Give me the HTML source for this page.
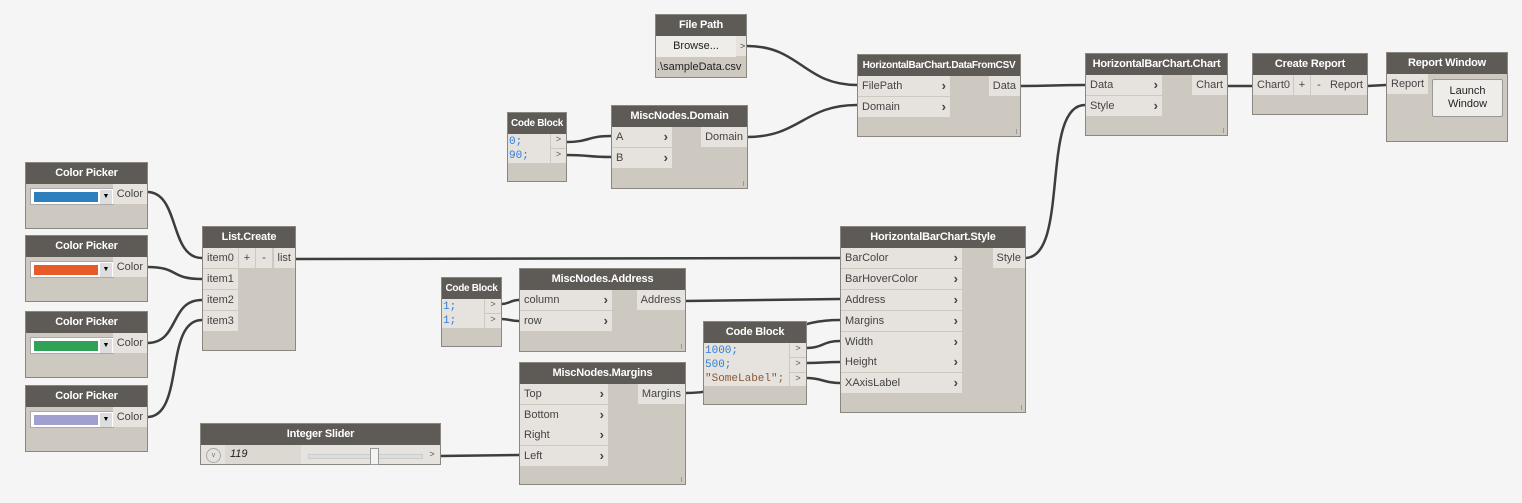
<!DOCTYPE html>
<html><head><meta charset="utf-8"><style>
body{margin:0;width:1522px;height:503px;background:#f5f5f5;position:relative;overflow:hidden;font-family:"Liberation Sans",sans-serif;}
.n{position:absolute;background:#cdc8c0;border:1px solid #8a8680;box-sizing:border-box;}
.h{position:absolute;left:0;right:0;top:0;height:21px;background:#5e5b57;color:#fff;font-weight:bold;font-size:11px;line-height:21px;text-align:center;white-space:nowrap;overflow:hidden;letter-spacing:-0.2px;}
.r{position:absolute;background:#e6e2dd;height:20px;font-size:11px;line-height:20px;color:#444;padding-left:4px;box-sizing:border-box;white-space:nowrap;}
.r b{position:absolute;right:4px;top:0;font-size:13px;color:#444;}
.o{position:absolute;background:#e6e2dd;height:20px;font-size:11px;line-height:20px;color:#444;padding:0 4px;box-sizing:border-box;white-space:nowrap;}
.code{position:absolute;font-family:"Liberation Mono",monospace;font-size:11px;line-height:14px;color:#2f7fd8;background:#e6e2dd;box-sizing:border-box;padding-left:1px;}
.g{position:absolute;background:#e6e2dd;font-size:9px;color:#555;text-align:center;border-left:1px solid #cdc8c0;box-sizing:border-box;}
.pk{position:absolute;background:#fff;border:1px solid #aaa;box-sizing:border-box;}
.sw{position:absolute;left:3px;top:3px;width:64px;height:10px;}
.dd{position:absolute;right:1px;top:1px;width:12px;height:14px;background:#ddd;font-size:7px;text-align:center;line-height:14px;}
.bar{position:absolute;right:3px;bottom:2px;width:1px;height:5px;background:#999;}
svg{position:absolute;left:0;top:0;}
</style></head><body>
<svg width="1522" height="503"><g fill="none" stroke="#3d3d3d" stroke-width="2.5">
<path d="M747 46 C800 46,804 85,857 85"/>
<path d="M747 137 C800 137,804 105,857 105"/>
<path d="M566 142 C590 142,587 136,611 136"/>
<path d="M566 155 C590 155,587 157,611 157"/>
<path d="M1020 86 C1052 86,1053 85,1085 85"/>
<path d="M1025 258 C1070 258,1040 105,1085 105"/>
<path d="M1227 86 L1252 86"/>
<path d="M1367 86 L1386 85"/>
<path d="M147 192 C180 192,169 258,202 258"/>
<path d="M147 267 C180 267,169 279,202 279"/>
<path d="M147 343 C180 343,169 300,202 300"/>
<path d="M147 417 C185 417,164 320,202 320"/>
<path d="M295 259 L840 258"/>
<path d="M501 304 C510 304,510 300,519 300"/>
<path d="M501 319 C510 319,510 321,519 321"/>
<path d="M685 301 L840 299"/>
<path d="M685 393 C780 393,745 320,840 320"/>
<path d="M806 348 C823 348,823 341,840 341"/>
<path d="M806 363 C823 363,823 362,840 362"/>
<path d="M806 378 C823 378,823 383,840 383"/>
<path d="M440 456 L519 455"/>
</g></svg>

<!-- File Path -->
<div class="n" style="left:655px;top:14px;width:92px;height:64px">
<div class="h">File Path</div>
<div class="o" style="left:0;top:21px;width:80px;height:21px;background:#efede9;text-align:center;color:#222">Browse...</div>
<div class="o" style="left:80px;top:21px;width:10px;font-size:9px">&gt;</div>
<div class="o" style="left:0;top:42px;width:90px;background:transparent;color:#222;padding-left:1px">.\sampleData.csv</div>
</div>

<!-- DataFromCSV -->
<div class="n" style="left:857px;top:54px;width:164px;height:83px">
<div class="h" style="font-size:10px;letter-spacing:-0.3px">HorizontalBarChart.DataFromCSV</div>
<div class="r" style="left:0;top:21px;width:92px">FilePath<b>›</b></div>
<div class="r" style="left:0;top:42px;width:92px">Domain<b>›</b></div>
<div class="o" style="right:0;top:21px">Data</div>
<div class="bar"></div>
</div>

<!-- Code Block 0 90 -->
<div class="n" style="left:507px;top:112px;width:60px;height:70px">
<div class="h" style="font-size:10px;letter-spacing:-0.3px">Code Block</div>
<div class="code" style="left:0;top:21px;width:42px;height:29px;padding-top:1px">0;<br>90;</div>
<div class="g" style="left:42px;top:21px;width:16px;height:14px">&gt;</div>
<div class="g" style="left:42px;top:36px;width:16px;height:14px">&gt;</div>
</div>

<!-- MiscNodes.Domain -->
<div class="n" style="left:611px;top:105px;width:137px;height:84px">
<div class="h">MiscNodes.Domain</div>
<div class="r" style="left:0;top:21px;width:60px">A<b>›</b></div>
<div class="r" style="left:0;top:42px;width:60px">B<b>›</b></div>
<div class="o" style="right:0;top:21px">Domain</div>
<div class="bar"></div>
</div>

<!-- Chart -->
<div class="n" style="left:1085px;top:53px;width:143px;height:83px">
<div class="h">HorizontalBarChart.Chart</div>
<div class="r" style="left:0;top:21px;width:76px">Data<b>›</b></div>
<div class="r" style="left:0;top:42px;width:76px">Style<b>›</b></div>
<div class="o" style="right:0;top:21px">Chart</div>
<div class="bar"></div>
</div>

<!-- Create Report -->
<div class="n" style="left:1252px;top:53px;width:116px;height:62px">
<div class="h">Create Report</div>
<div class="o" style="left:0;top:21px;width:40px">Chart0</div>
<div class="o" style="left:41px;top:21px;width:16px;text-align:center;padding:0">+</div>
<div class="o" style="left:58px;top:21px;width:16px;text-align:center;padding:0">-</div>
<div class="o" style="right:0;top:21px">Report</div>
</div>

<!-- Report Window -->
<div class="n" style="left:1386px;top:52px;width:122px;height:90px">
<div class="h">Report Window</div>
<div class="o" style="left:0;top:21px">Report</div>
<div style="position:absolute;left:45px;top:26px;width:71px;height:38px;background:#efedea;border:1px solid #999;border-radius:2px;font-size:11px;text-align:center;line-height:13px;padding-top:5px;box-sizing:border-box;color:#222">Launch<br>Window</div>
</div>

<!-- Color Pickers -->
<div class="n" style="left:25px;top:162px;width:123px;height:67px"><div class="h">Color Picker</div>
<div class="pk" style="left:4px;top:25px;width:84px;height:17px"><div class="sw" style="background:#2e7fbd"></div><div class="dd">▼</div></div>
<div class="o" style="right:0;top:21px">Color</div></div>
<div class="n" style="left:25px;top:235px;width:123px;height:67px"><div class="h">Color Picker</div>
<div class="pk" style="left:4px;top:25px;width:84px;height:17px"><div class="sw" style="background:#e85a28"></div><div class="dd">▼</div></div>
<div class="o" style="right:0;top:21px">Color</div></div>
<div class="n" style="left:25px;top:311px;width:123px;height:67px"><div class="h">Color Picker</div>
<div class="pk" style="left:4px;top:25px;width:84px;height:17px"><div class="sw" style="background:#2fa257"></div><div class="dd">▼</div></div>
<div class="o" style="right:0;top:21px">Color</div></div>
<div class="n" style="left:25px;top:385px;width:123px;height:67px"><div class="h">Color Picker</div>
<div class="pk" style="left:4px;top:25px;width:84px;height:17px"><div class="sw" style="background:#a09fd0"></div><div class="dd">▼</div></div>
<div class="o" style="right:0;top:21px">Color</div></div>

<!-- List.Create -->
<div class="n" style="left:202px;top:226px;width:94px;height:125px">
<div class="h">List.Create</div>
<div class="r" style="left:0;top:21px;width:35px">item0</div>
<div class="r" style="left:0;top:42px;width:35px">item1</div>
<div class="r" style="left:0;top:63px;width:35px">item2</div>
<div class="r" style="left:0;top:84px;width:35px">item3</div>
<div class="o" style="left:36px;top:21px;width:16px;text-align:center;padding:0">+</div>
<div class="o" style="left:53px;top:21px;width:16px;text-align:center;padding:0">-</div>
<div class="o" style="right:0;top:21px">list</div>
</div>

<!-- HBC.Style -->
<div class="n" style="left:840px;top:226px;width:186px;height:187px">
<div class="h">HorizontalBarChart.Style</div>
<div class="r" style="left:0;top:21px;width:121px">BarColor<b>›</b></div>
<div class="r" style="left:0;top:42px;width:121px">BarHoverColor<b>›</b></div>
<div class="r" style="left:0;top:63px;width:121px">Address<b>›</b></div>
<div class="r" style="left:0;top:84px;width:121px">Margins<b>›</b></div>
<div class="r" style="left:0;top:105px;width:121px">Width<b>›</b></div>
<div class="r" style="left:0;top:125px;width:121px">Height<b>›</b></div>
<div class="r" style="left:0;top:146px;width:121px">XAxisLabel<b>›</b></div>
<div class="o" style="right:0;top:21px">Style</div>
<div class="bar"></div>
</div>

<!-- Code Block 1 1 -->
<div class="n" style="left:441px;top:277px;width:61px;height:70px">
<div class="h" style="font-size:10px;letter-spacing:-0.3px">Code Block</div>
<div class="code" style="left:0;top:21px;width:42px;height:29px;padding-top:1px">1;<br>1;</div>
<div class="g" style="left:42px;top:21px;width:17px;height:14px">&gt;</div>
<div class="g" style="left:42px;top:36px;width:17px;height:14px">&gt;</div>
</div>

<!-- MiscNodes.Address -->
<div class="n" style="left:519px;top:268px;width:167px;height:84px">
<div class="h">MiscNodes.Address</div>
<div class="r" style="left:0;top:21px;width:92px">column<b>›</b></div>
<div class="r" style="left:0;top:42px;width:92px">row<b>›</b></div>
<div class="o" style="right:0;top:21px">Address</div>
<div class="bar"></div>
</div>

<!-- Code Block 1000 -->
<div class="n" style="left:703px;top:321px;width:104px;height:84px">
<div class="h">Code Block</div>
<div class="code" style="left:0;top:21px;width:85px;height:43px;padding-top:1px">1000;<br>500;<br><span style="color:#8a5a3a">"SomeLabel";</span></div>
<div class="g" style="left:85px;top:21px;width:17px;height:14px">&gt;</div>
<div class="g" style="left:85px;top:36px;width:17px;height:14px">&gt;</div>
<div class="g" style="left:85px;top:51px;width:17px;height:13px">&gt;</div>
</div>

<!-- MiscNodes.Margins -->
<div class="n" style="left:519px;top:362px;width:167px;height:123px">
<div class="h">MiscNodes.Margins</div>
<div class="r" style="left:0;top:21px;width:88px">Top<b>›</b></div>
<div class="r" style="left:0;top:42px;width:88px">Bottom<b>›</b></div>
<div class="r" style="left:0;top:62px;width:88px">Right<b>›</b></div>
<div class="r" style="left:0;top:83px;width:88px">Left<b>›</b></div>
<div class="o" style="right:0;top:21px">Margins</div>
<div class="bar"></div>
</div>

<!-- Integer Slider -->
<div class="n" style="left:200px;top:423px;width:241px;height:42px">
<div class="h">Integer Slider</div>
<div style="position:absolute;left:0;top:21px;width:239px;height:19px;background:#e6e2dd"></div>
<div style="position:absolute;left:5px;top:24px;width:13px;height:13px;border:1px solid #aaa;border-radius:50%;font-size:7px;text-align:center;line-height:13px;color:#777">v</div>
<div style="position:absolute;left:24px;top:21px;width:76px;height:19px;background:#dcd8d2;font-size:11px;line-height:19px;font-style:italic;padding-left:5px;box-sizing:border-box;color:#222">119</div>
<div style="position:absolute;left:107px;top:30px;width:113px;height:3px;background:#ddd;border:1px solid #ccc"></div>
<div style="position:absolute;left:169px;top:24px;width:7px;height:15px;background:#f3f3f3;border:1px solid #999"></div>
<div style="position:absolute;left:223px;top:21px;width:16px;height:19px;font-size:9px;line-height:19px;color:#555;text-align:center">&gt;</div>
</div>
</body></html>
